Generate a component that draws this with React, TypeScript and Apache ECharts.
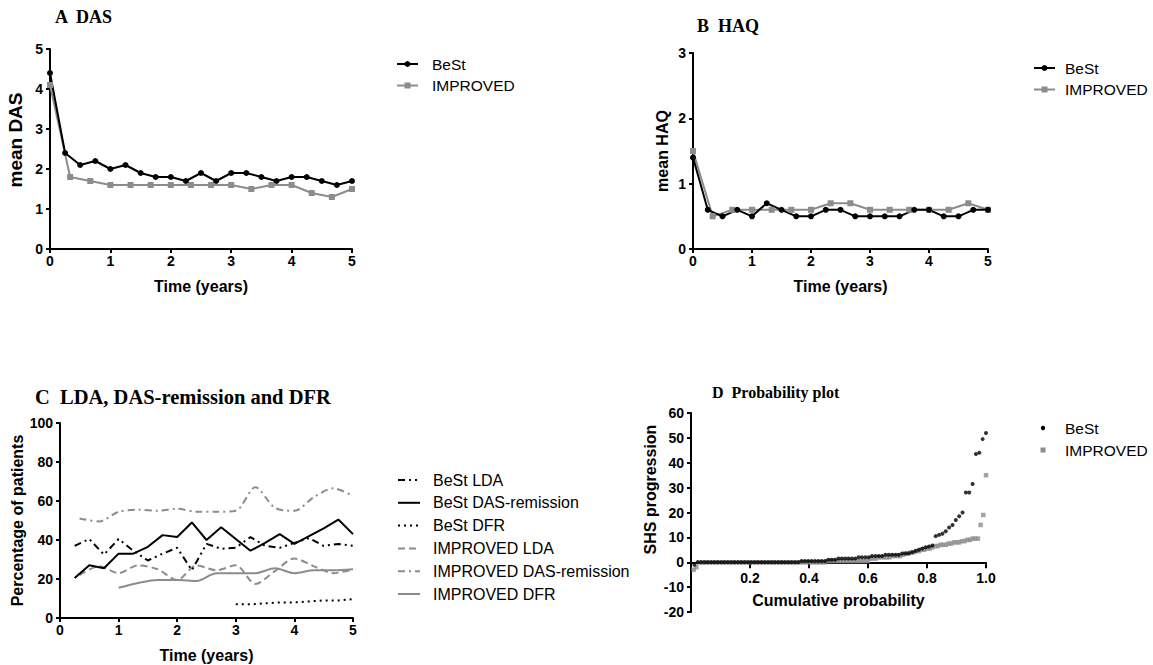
import React, { useEffect, useRef } from "react";
import * as echarts from "echarts";

const FONT = "'Liberation Sans', Arial, sans-serif";
const SERIF = "'Liberation Serif', 'Times New Roman', serif";
const BLACK = "#000000";
const GRAY = "#8c8c8c";

// ---- time points ----
const quarterTimes = [0, 0.25, 0.5, 0.75, 1, 1.25, 1.5, 1.75, 2, 2.25, 2.5, 2.75, 3, 3.25, 3.5, 3.75, 4, 4.25, 4.5, 4.75, 5];
const thirdTimes = [0, 0.3333, 0.6667, 1, 1.3333, 1.6667, 2, 2.3333, 2.6667, 3, 3.3333, 3.6667, 4, 4.3333, 4.6667, 5];

// ---- Panel A: DAS ----
const dasBest = [4.4, 2.4, 2.1, 2.2, 2.0, 2.1, 1.9, 1.8, 1.8, 1.7, 1.9, 1.7, 1.9, 1.9, 1.8, 1.7, 1.8, 1.8, 1.7, 1.6, 1.7];
const dasImproved = [4.1, 1.8, 1.7, 1.6, 1.6, 1.6, 1.6, 1.6, 1.6, 1.6, 1.5, 1.6, 1.6, 1.4, 1.3, 1.5];

// ---- Panel B: HAQ ----
const haqBest = [1.4, 0.6, 0.5, 0.6, 0.5, 0.7, 0.6, 0.5, 0.5, 0.6, 0.6, 0.5, 0.5, 0.5, 0.5, 0.6, 0.6, 0.5, 0.5, 0.6, 0.6];
const haqImproved = [1.5, 0.5, 0.6, 0.6, 0.6, 0.6, 0.6, 0.7, 0.7, 0.6, 0.6, 0.6, 0.6, 0.6, 0.7, 0.6];

// ---- Panel C: LDA, DAS-remission and DFR (%) ----
const bestTimesC = quarterTimes.slice(1); // 0.25 .. 5
const bestDfrTimes = quarterTimes.slice(12); // 3 .. 5
const improvedTimesC = thirdTimes.slice(1); // 0.33 .. 5
const improvedDfrTimes = thirdTimes.slice(3); // 1 .. 5

const bestLda = [37, 40.5, 32.5, 40.5, 34.5, 29.5, 33, 36, 24.5, 38, 35.5, 36, 41.5, 37, 36, 38.5, 41, 37, 38, 37];
const bestRemission = [20.5, 27, 25.5, 33, 33, 36.5, 42.5, 41.5, 49, 40, 46.5, 40.5, 34.5, 38.5, 43, 38, 42, 46, 50.5, 43];
const bestDfr = [7, 7, 7.5, 8, 8, 8.5, 9, 9, 9.7];
const improvedLda = [22, 26.5, 23, 27, 25, 19.5, 27, 24.5, 27, 17.5, 24, 30.5, 26.5, 23, 25];
const improvedRemission = [51, 49.5, 54.5, 55.5, 55, 56, 54.5, 54.5, 55, 67, 56.5, 55, 62, 66.5, 62.5];
const improvedDfr = [15.5, 18, 19.5, 19.5, 19, 23, 23, 23, 25.5, 23, 24.5, 24.5, 25];

// ---- Panel D: probability plot of SHS progression (sorted values) ----
const shsBest = [
  -1, 0, 0, 0, 0, 0, 0, 0, 0, 0, 0, 0, 0, 0, 0, 0, 0, 0, 0, 0, 0, 0, 0, 0, 0, 0, 0, 0, 0, 0, 0, 0,
  0.5, 0.5, 0.5, 0.5, 0.5, 0.5, 0.5, 0.5,
  1, 1, 1, 1.5, 1.5, 1.5, 1.5, 1.5, 1.5, 2, 2, 2, 2,
  2.5, 2.5, 2.5, 2.5, 3, 3, 3, 3, 3, 3.5, 3.5,
  3.6, 4, 4.5, 5, 5.5, 6, 6.3, 6.7,
  10.5, 11, 11.5, 12.5, 14, 15, 17, 18.5, 20, 28, 28, 31.5, 43.5, 44, 49.5, 52,
];
const shsImproved = [
  -3, -2,
  0, 0, 0, 0, 0, 0, 0, 0, 0, 0, 0, 0, 0, 0, 0, 0, 0, 0, 0, 0, 0, 0, 0, 0,
  0, 0, 0, 0, 0, 0, 0, 0, 0, 0, 0, 0, 0, 0, 0, 0, 0, 0, 0, 0, 0, 0, 0, 0,
  0.5, 0.5, 0.5, 0.5, 0.5, 0.5, 0.5, 0.5, 0.5, 0.5, 0.5, 0.5, 0.5, 0.5, 0.5, 0.5,
  1.5, 1.5, 1.5, 2, 2, 2, 2, 2, 2.5, 2.5, 2.5, 2.5,
  3, 3.5, 3.5, 4, 4, 4.5, 4.5, 5, 5, 5.5, 5.5, 6,
  6.5, 6.5, 7, 7, 7, 7.5, 7.5, 8, 8, 8, 8.5, 8.5, 9, 9, 9.5, 9.5, 9.5,
  15, 19, 35,
];

// ---- legend entries ----
const legendAB = ["BeSt", "IMPROVED"];
const legendC = ["BeSt LDA", "BeSt DAS-remission", "BeSt DFR", "IMPROVED LDA", "IMPROVED DAS-remission", "IMPROVED DFR"];

const zip = (xs: number[], ys: number[]) => ys.map((y, i) => [xs[i], y]);
const rankPairs = (vals: number[]) => vals.map((v, i) => [(i + 1) / vals.length, v]);

// line styles per Panel C series
const cStyles: Record<string, { color: string; dash: number[] | null; smooth: number }> = {
  "BeSt LDA": { color: BLACK, dash: [7, 4, 2, 4, 2, 4], smooth: 0 },
  "BeSt DAS-remission": { color: BLACK, dash: null, smooth: 0 },
  "BeSt DFR": { color: BLACK, dash: [2, 4], smooth: 0 },
  "IMPROVED LDA": { color: GRAY, dash: [7, 4], smooth: 0.3 },
  "IMPROVED DAS-remission": { color: GRAY, dash: [7, 4, 2, 4], smooth: 0.3 },
  "IMPROVED DFR": { color: GRAY, dash: null, smooth: 0.3 },
};

const axisBase = (gridIndex: number) => ({
  gridIndex,
  type: "value",
  nameLocation: "middle",
  splitLine: { show: false },
  axisLine: { show: true, lineStyle: { color: BLACK, width: 2 } },
  axisTick: { show: true, length: 4, lineStyle: { color: BLACK, width: 2 } },
  axisLabel: { color: BLACK, fontWeight: "bold", fontSize: 14, fontFamily: FONT },
  nameTextStyle: { color: BLACK, fontWeight: "bold", fontSize: 16, fontFamily: FONT },
});

const timeAxis = (gridIndex: number) => ({
  ...axisBase(gridIndex),
  min: 0,
  max: 5,
  interval: 1,
  name: "Time (years)",
  nameGap: 29,
  axisLabel: { ...axisBase(gridIndex).axisLabel, margin: 5 },
});

const gridD = { left: 691, top: 413, width: 295, height: 199 };
const yMinD = -20;
const yMaxD = 60;

// ---- graphic legends ----
const legendText = (x: number, y: number, text: string, size = 16) => ({
  type: "text",
  x,
  y,
  style: { text, fontSize: size, fontFamily: FONT, fill: BLACK, verticalAlign: "middle" },
});

const legendABGraphic = (x0: number, y0: number, textX: number, size: number) => {
  const out: any[] = [];
  legendAB.forEach((name, i) => {
    const y = y0 + i * 21.5;
    const color = name === "BeSt" ? BLACK : GRAY;
    out.push({ type: "line", shape: { x1: x0, y1: y, x2: x0 + 21, y2: y }, style: { stroke: color, lineWidth: 2 } });
    if (name === "BeSt") {
      out.push({ type: "circle", shape: { cx: x0 + 10.5, cy: y, r: 3 }, style: { fill: color } });
    } else {
      out.push({ type: "rect", shape: { x: x0 + 7.5, y: y - 3, width: 6, height: 6 }, style: { fill: color } });
    }
    out.push(legendText(textX, y, name, size));
  });
  return out;
};

const legendCGraphic = () => {
  const out: any[] = [];
  legendC.forEach((name, i) => {
    const y = 480 + i * 22.8;
    const s = cStyles[name];
    out.push({
      type: "line",
      shape: { x1: 398, y1: y, x2: 420, y2: y },
      style: { stroke: s.color, lineWidth: 2, lineDash: s.dash || undefined },
    });
    out.push(legendText(433, y, name, 16));
  });
  return out;
};

const nameStyle = (size: number, shiftUp: number) => ({
  color: BLACK,
  fontWeight: "bold",
  fontSize: size,
  fontFamily: FONT,
  padding: [0, 0, 0, shiftUp * 2],
});

const option: any = {
  animation: false,
  backgroundColor: "#ffffff",
  textStyle: { fontFamily: FONT },
  grid: [
    { left: 50, top: 49, width: 302, height: 200 },
    { left: 693, top: 53, width: 295, height: 196 },
    { left: 60, top: 423, width: 293, height: 195 },
    gridD,
  ],
  xAxis: [
    timeAxis(0),
    timeAxis(1),
    timeAxis(2),
    {
      ...axisBase(3),
      min: 0,
      max: 1,
      interval: 0.2,
      name: "Cumulative probability",
      nameGap: 30,
      position: "bottom",
      // place the axis line at SHS = 0
      offset: -(gridD.height * (0 - yMinD)) / (yMaxD - yMinD),
      axisLine: { show: true, onZero: false, lineStyle: { color: BLACK, width: 2 } },
      axisTick: { show: true, length: 6, lineStyle: { color: BLACK, width: 2 } },
      axisLabel: {
        ...axisBase(3).axisLabel,
        margin: 9,
        showMinLabel: false,
        formatter: (v: number) => v.toFixed(1),
      },
    },
  ],
  yAxis: [
    {
      ...axisBase(0), min: 0, max: 5, interval: 1, name: "mean DAS", nameGap: 25,
      nameTextStyle: nameStyle(19, 9),
      axisLabel: { ...axisBase(0).axisLabel, margin: 7 },
    },
    { ...axisBase(1), min: 0, max: 3, interval: 1, name: "mean HAQ", nameGap: 23, axisLabel: { ...axisBase(1).axisLabel, margin: 7 } },
    { ...axisBase(2), min: 0, max: 100, interval: 20, name: "Percentage of patients", nameGap: 30, axisLabel: { ...axisBase(2).axisLabel, margin: 7 } },
    {
      ...axisBase(3), min: yMinD, max: yMaxD, interval: 10, name: "SHS progression", nameGap: 33,
      nameTextStyle: nameStyle(16, 23),
      axisLabel: { ...axisBase(3).axisLabel, margin: 7 },
    },
  ],
  graphic: [
    { type: "text", x: 55, y: 17, style: { text: "A  DAS", fontSize: 18, fontWeight: "bold", fontFamily: SERIF, fill: BLACK, verticalAlign: "middle" } },
    { type: "text", x: 697, y: 26, style: { text: "B  HAQ", fontSize: 18, fontWeight: "bold", fontFamily: SERIF, fill: BLACK, verticalAlign: "middle" } },
    { type: "text", x: 35, y: 397, style: { text: "C  LDA, DAS-remission and DFR", fontSize: 20.5, fontWeight: "bold", fontFamily: SERIF, fill: BLACK, verticalAlign: "middle" } },
    { type: "text", x: 712, y: 392, style: { text: "D  Probability plot", fontSize: 16, fontWeight: "bold", fontFamily: SERIF, fill: BLACK, verticalAlign: "middle" } },
    ...legendABGraphic(397, 64, 432, 15.5),
    ...legendABGraphic(1034, 68, 1065, 15.5),
    ...legendCGraphic(),
    { type: "circle", shape: { cx: 1043, cy: 428, r: 2.2 }, style: { fill: BLACK } },
    { type: "rect", shape: { x: 1040.5, y: 447.5, width: 5, height: 5 }, style: { fill: GRAY } },
    legendText(1065, 428, "BeSt", 15.5),
    legendText(1065, 450, "IMPROVED", 15.5),
  ],
  series: [
    // A
    {
      type: "line", name: "IMPROVED", xAxisIndex: 0, yAxisIndex: 0, data: zip(thirdTimes, dasImproved),
      symbol: "rect", symbolSize: 6, lineStyle: { color: GRAY, width: 2 }, itemStyle: { color: GRAY },
    },
    {
      type: "line", name: "BeSt", xAxisIndex: 0, yAxisIndex: 0, data: zip(quarterTimes, dasBest),
      symbol: "circle", symbolSize: 6, lineStyle: { color: BLACK, width: 2 }, itemStyle: { color: BLACK },
    },
    // B
    {
      type: "line", name: "IMPROVED", xAxisIndex: 1, yAxisIndex: 1, data: zip(thirdTimes, haqImproved),
      symbol: "rect", symbolSize: 6, lineStyle: { color: GRAY, width: 2 }, itemStyle: { color: GRAY },
    },
    {
      type: "line", name: "BeSt", xAxisIndex: 1, yAxisIndex: 1, data: zip(quarterTimes, haqBest),
      symbol: "circle", symbolSize: 6, lineStyle: { color: BLACK, width: 2 }, itemStyle: { color: BLACK },
    },
    // C
    ...[
      ["IMPROVED DFR", improvedDfrTimes, improvedDfr],
      ["IMPROVED DAS-remission", improvedTimesC, improvedRemission],
      ["IMPROVED LDA", improvedTimesC, improvedLda],
      ["BeSt DFR", bestDfrTimes, bestDfr],
      ["BeSt DAS-remission", bestTimesC, bestRemission],
      ["BeSt LDA", bestTimesC, bestLda],
    ].map(([name, xs, ys]: any) => {
      const s = cStyles[name];
      return {
        type: "line", name, xAxisIndex: 2, yAxisIndex: 2, data: zip(xs, ys),
        symbol: "none", smooth: s.smooth,
        lineStyle: { color: s.color, width: 2, type: s.dash || "solid" },
        itemStyle: { color: s.color },
      };
    }),
    // D
    {
      type: "scatter", name: "IMPROVED", xAxisIndex: 3, yAxisIndex: 3, data: rankPairs(shsImproved),
      symbol: "rect", symbolSize: 4.5, itemStyle: { color: GRAY },
    },
    {
      type: "scatter", name: "BeSt", xAxisIndex: 3, yAxisIndex: 3, data: rankPairs(shsBest),
      symbol: "circle", symbolSize: 4, itemStyle: { color: BLACK },
    },
  ],
};

export default function App() {
  const ref = useRef<HTMLDivElement>(null);
  useEffect(() => {
    if (!ref.current) return;
    const chart = echarts.init(ref.current, null, { renderer: "svg" });
    chart.setOption(option);
    return () => chart.dispose();
  }, []);
  return (
    <div
      ref={ref}
      style={{ position: "absolute", left: 0, top: 0, width: 1153, height: 665, background: "#ffffff" }}
    />
  );
}
